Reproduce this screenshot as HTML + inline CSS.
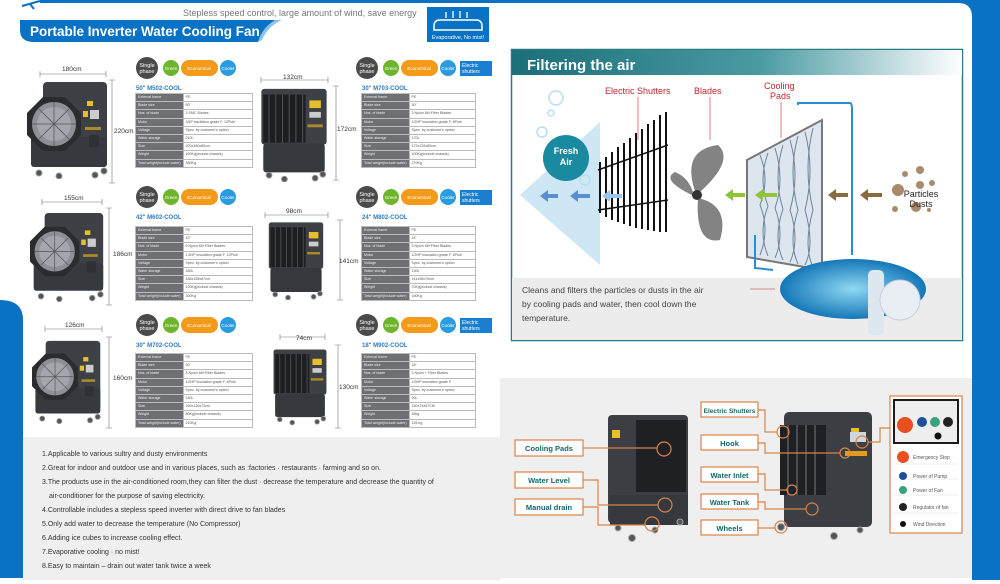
<!DOCTYPE html>
<html><head><meta charset="utf-8"><style>
html,body{margin:0;padding:0;background:#fff;}
body{width:1000px;height:584px;position:relative;overflow:hidden;font-family:"Liberation Sans",Arial,sans-serif;}
svg{position:absolute;left:0;top:0;}
table.t{position:absolute;border-collapse:collapse;font-size:3.6px;line-height:7px;}
table.t td{border:0.6px solid #bbb;padding:0 2px;height:7.2px;white-space:nowrap;overflow:hidden;}
table.t td:first-child{background:#6e7074;color:#eee;width:40%;}
table.t td:last-child{background:#fff;color:#555;}
</style></head><body>
<svg width="1000" height="584" viewBox="0 0 1000 584" font-family="Liberation Sans, Arial, sans-serif">
<defs>
<symbol id="bigfan" viewBox="0 0 82 100">
 <rect x="16" y="3" width="64" height="82" rx="4" fill="#3d4045"/>
 <rect x="4" y="58" width="76" height="30" rx="3" fill="#36393d"/>
 <polygon points="16,18 38,18 54,34 54,56 38,72 16,72 0,56 0,34" fill="#2a2c30"/>
 <circle cx="27" cy="45" r="22" fill="#8d9197"/>
 <circle cx="27" cy="45" r="17" fill="#a3a7ad"/>
 <g stroke="#555" stroke-width="0.8"><line x1="5" y1="45" x2="49" y2="45"/><line x1="27" y1="23" x2="27" y2="67"/><line x1="12" y1="30" x2="42" y2="60"/><line x1="42" y1="30" x2="12" y2="60"/></g>
 <rect x="60" y="22" width="6" height="5" fill="#e6c02a"/><rect x="56" y="32" width="5" height="6" fill="#e6c02a"/>
 <rect x="63" y="31" width="9" height="9" fill="#ccc"/>
 <rect x="58" y="48" width="16" height="3" fill="#b08a2a"/>
 <rect x="62" y="56" width="10" height="12" fill="#2e3034"/>
 <g fill="#555" stroke="#999" stroke-width="1"><circle cx="12" cy="94" r="3"/><circle cx="32" cy="97" r="3"/><circle cx="68" cy="96" r="3"/><circle cx="77" cy="92" r="3"/></g>
</symbol>
<symbol id="boxfan" viewBox="0 0 72 100">
 <rect x="2" y="3" width="68" height="58" rx="3" fill="#3d4045"/>
 <rect x="4" y="9" width="44" height="50" fill="#1c1e21"/>
 <g stroke="#555" stroke-width="1"><line x1="10" y1="9" x2="10" y2="59"/><line x1="17" y1="9" x2="17" y2="59"/><line x1="24" y1="9" x2="24" y2="59"/><line x1="31" y1="9" x2="31" y2="59"/><line x1="38" y1="9" x2="38" y2="59"/><line x1="45" y1="9" x2="45" y2="59"/></g>
 <rect x="52" y="15" width="12" height="8" fill="#e6c02a"/><rect x="52" y="27" width="12" height="6" fill="#ccc"/>
 <rect x="50" y="40" width="16" height="3" fill="#b08a2a"/>
 <rect x="4" y="60" width="64" height="30" rx="3" fill="#35383c"/>
 <g fill="#555" stroke="#999" stroke-width="1"><circle cx="10" cy="93" r="3"/><circle cx="26" cy="97" r="3"/><circle cx="58" cy="96" r="3"/><circle cx="66" cy="92" r="3"/></g>
</symbol>
<linearGradient id="hg" x1="0" x2="1"><stop offset="0" stop-color="#1b6f78"/><stop offset="0.55" stop-color="#4a9aa2"/><stop offset="1" stop-color="#ffffff"/></linearGradient>
<radialGradient id="wg" cx="0.5" cy="0.5" r="0.5"><stop offset="0" stop-color="#8fd8f2"/><stop offset="1" stop-color="#1577b8"/></radialGradient>
</defs>

<!-- frame -->
<rect x="972" y="0" width="28" height="580" fill="#0a72c4"/>
<rect x="40" y="0" width="960" height="3" fill="#0a72c4"/>
<path d="M958 3 Q972 3 972 17 L972 3 Z" fill="#0a72c4"/>
<path d="M0 300 Q23 300 23 320 L23 578 L0 578 Z" fill="#0a72c4"/>
<path d="M22 6 L40 1 M30 4 L34 9" stroke="#0a72c4" stroke-width="2"/>
<rect x="23" y="437" width="477" height="143" fill="#efefef"/>
<rect x="500" y="378" width="472" height="200" fill="#efefef"/>

<!-- header -->
<text x="183" y="16" font-size="9" fill="#777">Stepless speed control, large amount of wind, save energy</text>
<path d="M20 20 L280 20 Q265 26 258 42 L34 42 Q20 42 20 30 Z" fill="#0a72c4"/>
<path d="M262 40 Q268 26 282 20 L275 20 Q262 28 258 42 Z" fill="#8fc3ea"/>
<text x="30" y="36" font-size="13.5" font-weight="bold" fill="#fff">Portable Inverter Water Cooling Fan</text>
<rect x="427" y="7" width="62" height="35" fill="#0a72c4"/>
<path d="M434 26 Q434 20 440 20 L476 20 Q482 20 482 26 L482 30 L434 30 Z" fill="none" stroke="#fff" stroke-width="1.5"/>
<g stroke="#fff" stroke-width="1.3"><line x1="446" y1="18" x2="446" y2="12"/><line x1="453" y1="18" x2="453" y2="11"/><line x1="460" y1="18" x2="460" y2="11"/><line x1="467" y1="18" x2="467" y2="12"/></g>
<text x="458" y="39" font-size="5.5" fill="#fff" text-anchor="middle">Evaporative, No mist!</text>

<!-- fans -->
<use href="#bigfan" x="27" y="79" width="82" height="100"/>
<use href="#boxfan" x="258" y="86" width="72" height="96"/>
<use href="#bigfan" x="30" y="210" width="75" height="92"/>
<use href="#boxfan" x="261" y="220" width="70" height="80"/>
<use href="#bigfan" x="32" y="338" width="70" height="86"/>
<use href="#boxfan" x="272" y="345" width="56" height="82"/>

<!-- dimension lines -->
<g stroke="#777" stroke-width="0.6" fill="none">
<path d="M40 74 H106 M40 71 V77 M106 71 V77"/><path d="M112 80 V183 M109 80 H115 M109 183 H115"/>
<path d="M261 80 H328 M261 77 V83 M328 77 V83"/><path d="M336 86 V180 M333 86 H339 M333 180 H339"/>
<path d="M42 202 H102 M42 199 V205 M102 199 V205"/><path d="M109 208 V305 M106 208 H112 M106 305 H112"/>
<path d="M265 215 H328 M265 212 V218 M328 212 V218"/><path d="M340 220 V300 M337 220 H343 M337 300 H343"/>
<path d="M45 329 H102 M45 326 V332 M102 326 V332"/><path d="M109 337 V428 M106 337 H112 M106 428 H112"/>
<path d="M280 337 H325 M280 334 V340 M325 334 V340"/><path d="M338 345 V428 M335 345 H341 M335 428 H341"/>
</g>
<g font-size="6.5" fill="#333">
<text x="62" y="71">180cm</text><text x="114" y="133">220cm</text>
<text x="283" y="79">132cm</text><text x="337" y="131">172cm</text>
<text x="64" y="200">155cm</text><text x="113" y="256">186cm</text>
<text x="286" y="213">98cm</text><text x="339" y="263">141cm</text>
<text x="65" y="327">126cm</text><text x="113" y="380">160cm</text>
<text x="296" y="340">74cm</text><text x="339" y="389">130cm</text>
</g>

<!-- badges -->
<g id="b1">
<circle cx="147" cy="68" r="11" fill="#4a4a4a"/><text x="147" y="67" font-size="5.5" fill="#fff" text-anchor="middle">Single</text><text x="147" y="73" font-size="5.5" fill="#fff" text-anchor="middle">phase</text>
<circle cx="171" cy="68" r="8" fill="#6cb52d"/><text x="171" y="70" font-size="4.5" fill="#fff" text-anchor="middle">Green</text>
<rect x="181" y="60" width="37" height="16" rx="8" fill="#f39a1b"/><text x="199" y="70" font-size="4.5" fill="#fff" text-anchor="middle">Economical</text>
<circle cx="228" cy="68" r="8" fill="#2b9be0"/><text x="228" y="70" font-size="4.5" fill="#fff" text-anchor="middle">Cooler</text>
</g>
<use href="#b1" x="0" y="129"/><use href="#b1" x="0" y="257"/>
<use href="#b1" x="220" y="0"/><use href="#b1" x="220" y="129"/><use href="#b1" x="220" y="257"/>
<g id="es"><rect x="460" y="61" width="32" height="15" fill="#1a7fd0"/><text x="462" y="67" font-size="5" fill="#fff">Electric</text><text x="462" y="73" font-size="5" fill="#fff">shutters</text></g>
<use href="#es" x="0" y="129"/><use href="#es" x="0" y="257"/>

<g font-size="6" font-weight="bold" fill="#2a7bc0">
<text x="136" y="90">50" M502-COOL</text><text x="362" y="90">30" M703-COOL</text>
<text x="136" y="219">42" M602-COOL</text><text x="362" y="219">24" M802-COOL</text>
<text x="136" y="347">30" M702-COOL</text><text x="362" y="347">18" M902-COOL</text>
</g>

<!-- Filter panel -->
<rect x="511.5" y="49.5" width="451" height="291" fill="#fff" stroke="#2a7b80" stroke-width="1.5"/>
<rect x="512" y="50" width="450" height="25" fill="url(#hg)"/>
<text x="527" y="70" font-size="15" font-weight="bold" fill="#fff">Filtering the air</text>
<path d="M520 195 L600 122 L600 265 Z" fill="#cfe6f5"/>
<rect x="512" y="278" width="450" height="62" fill="#ececec"/>
<circle cx="566" cy="158" r="23" fill="#1a8aa0"/>
<text x="566" y="154" font-size="9" font-weight="bold" fill="#fff" text-anchor="middle">Fresh</text>
<text x="566" y="165" font-size="9" font-weight="bold" fill="#fff" text-anchor="middle">Air</text>
<g fill="none" stroke="#b8dff0" stroke-width="1.5"><circle cx="556" cy="98" r="7"/><circle cx="551" cy="113" r="3"/><circle cx="542" cy="132" r="5"/><circle cx="585" cy="180" r="5"/></g>
<g stroke="#111" stroke-width="2">
<line x1="600" y1="162" x2="600" y2="213"/><line x1="606" y1="157" x2="606" y2="217"/><line x1="612" y1="152" x2="612" y2="220"/><line x1="618" y1="147" x2="618" y2="222"/><line x1="624" y1="143" x2="624" y2="224"/><line x1="630" y1="138" x2="630" y2="226"/><line x1="636" y1="133" x2="636" y2="228"/><line x1="642" y1="129" x2="642" y2="229"/><line x1="648" y1="124" x2="648" y2="230"/><line x1="654" y1="120" x2="654" y2="231"/><line x1="660" y1="115" x2="660" y2="232"/><line x1="666" y1="112" x2="666" y2="232"/>
<line x1="598" y1="170" x2="668" y2="145" stroke-width="1.5"/><line x1="598" y1="210" x2="668" y2="200" stroke-width="1.5"/>
</g>
<g fill="#838383">
<path d="M696 194 Q680 150 718 145 Q735 160 700 192 Z"/>
<path d="M694 196 Q660 180 675 172 Q690 178 694 196 Z"/>
<path d="M698 198 Q730 205 720 240 Q695 245 698 198 Z"/>
</g>
<circle cx="697" cy="195" r="5" fill="#333"/>
<polygon points="747,160 822,120 822,270 747,257" fill="#dde6ee" stroke="#777" stroke-width="2"/>
<g fill="none" stroke="#3c5a78" stroke-width="1" opacity="0.7">
<path d="M760 155 Q770 180 760 205 Q770 230 760 255"/><path d="M775 148 Q785 180 775 208 Q785 235 775 258"/><path d="M790 140 Q800 175 790 210 Q800 240 790 262"/><path d="M805 132 Q815 170 805 210 Q815 245 805 265"/>
<path d="M768 153 Q758 180 768 206 Q758 232 768 256"/><path d="M783 145 Q773 178 783 209 Q773 238 783 260"/><path d="M798 136 Q788 172 798 210 Q788 242 798 264"/><path d="M813 128 Q803 168 813 210 Q803 246 813 267"/>
</g>
<ellipse cx="853" cy="289" rx="73" ry="30" fill="url(#wg)"/>
<path d="M798 105 L798 103 Q798 103 850 103 Q852 103 852 110 L852 255" fill="none" stroke="#2a8fd0" stroke-width="2"/>
<path d="M755 235 L755 268 L773 270" fill="none" stroke="#2a8fd0" stroke-width="2"/>
<rect x="868" y="270" width="16" height="65" rx="5" fill="#dde7ef"/>
<circle cx="900" cy="300" r="20" fill="#e8eef3" stroke="#ccd" stroke-width="1"/>
<g fill="#5a8fd0"><path d="M540 196 l8 -6 v4 h10 v4 h-10 v4 z"/><path d="M570 196 l8 -6 v4 h12 v4 h-12 v4 z"/><path d="M602 196 l8 -6 v4 h12 v4 h-12 v4 z" fill="#9cc4e8"/></g>
<g fill="#8fc43a"><path d="M725 195 l8 -6 v4 h12 v4 h-12 v4 z"/><path d="M755 195 l8 -6 v4 h14 v4 h-14 v4 z"/></g>
<g fill="#8a6a3f"><path d="M828 195 l8 -6 v4 h12 v4 h-12 v4 z"/><path d="M860 195 l8 -6 v4 h14 v4 h-14 v4 z"/></g>
<g fill="#a98b6b"><circle cx="905" cy="174" r="3"/><circle cx="920" cy="170" r="4"/><circle cx="898" cy="190" r="6"/><circle cx="920" cy="185" r="4"/><circle cx="932" cy="183" r="3"/><circle cx="916" cy="207" r="5"/><circle cx="895" cy="209" r="3"/><circle cx="929" cy="210" r="2"/></g>
<text x="921" y="197" font-size="9" fill="#222" text-anchor="middle">Particles</text>
<text x="921" y="207" font-size="9" fill="#222" text-anchor="middle">Dusts</text>
<g font-size="9" fill="#c0262d"><text x="605" y="94">Electric Shutters</text><text x="694" y="94">Blades</text><text x="764" y="89">Cooling</text><text x="770" y="99">Pads</text></g>
<g stroke="#c0262d" stroke-width="0.6"><line x1="638" y1="97" x2="638" y2="140"/><line x1="710" y1="97" x2="710" y2="140"/><line x1="781" y1="102" x2="781" y2="138"/></g>
<g font-size="8.5" fill="#444"><text x="522" y="293">Cleans and filters the particles or dusts in the air</text><text x="522" y="307">by cooling pads and water, then cool down the</text><text x="522" y="321">temperature.</text></g>
<line x1="750" y1="289" x2="775" y2="289" stroke="#c0262d" stroke-width="0.6"/>

<!-- features -->
<g font-size="7" fill="#333">
<text x="42" y="456">1.Applicable to various sultry and dusty environments</text>
<text x="42" y="470">2.Great for indoor and outdoor use and in various places, such as :factories · restaurants · farming and so on.</text>
<text x="42" y="484">3.The products use in the air-conditioned room,they can filter the dust · decrease the temperature and decrease the quantity of</text>
<text x="49" y="498">air-conditioner for the purpose of saving electricity.</text>
<text x="42" y="512">4.Controllable includes a stepless speed inverter with direct drive to fan blades</text>
<text x="42" y="526">5.Only add water to decrease the temperature (No Compressor)</text>
<text x="42" y="540">6.Adding ice cubes to increase cooling effect.</text>
<text x="42" y="554">7.Evaporative cooling · no mist!</text>
<text x="42" y="568">8.Easy to maintain – drain out water tank twice a week</text>
</g>

<!-- machines -->
<rect x="608" y="415" width="80" height="108" rx="4" fill="#3b3e43"/>
<rect x="636" y="420" width="50" height="72" fill="#1e2023"/>
<rect x="612" y="430" width="8" height="8" fill="#e6c02a"/>
<rect x="610" y="495" width="78" height="30" fill="#35383c"/>
<g fill="#555" stroke="#aaa"><circle cx="618" cy="528" r="3"/><circle cx="632" cy="538" r="3.5"/><circle cx="655" cy="530" r="3"/><circle cx="680" cy="522" r="3"/></g>
<rect x="784" y="412" width="88" height="115" rx="5" fill="#3b3e43"/>
<rect x="780" y="425" width="46" height="70" fill="#1e2023"/>
<g stroke="#777" stroke-width="1"><line x1="788" y1="425" x2="788" y2="495"/><line x1="797" y1="425" x2="797" y2="495"/><line x1="806" y1="425" x2="806" y2="495"/><line x1="815" y1="425" x2="815" y2="495"/></g>
<rect x="850" y="432" width="16" height="10" fill="#cfd6dc"/><rect x="851" y="428" width="8" height="4" fill="#e6c02a"/>
<rect x="845" y="451" width="22" height="5" fill="#e89a1a"/>
<g fill="#555" stroke="#aaa"><circle cx="781" cy="527" r="3.5"/><circle cx="834" cy="536" r="3.5"/><circle cx="860" cy="530" r="3"/></g>
<g fill="none" stroke="#d9834a" stroke-width="1.2">
<circle cx="664" cy="449" r="7"/><circle cx="665" cy="505" r="7"/><circle cx="652" cy="524" r="7"/>
<circle cx="783" cy="432" r="6"/><circle cx="845" cy="453" r="5"/><circle cx="792" cy="490" r="5"/><circle cx="812" cy="509" r="6"/><circle cx="781" cy="527" r="6"/><circle cx="862" cy="442" r="6"/>
<path d="M583 448 H657 M583 480 H598 V505 H658 M583 507 H598 V525 H645"/>
<path d="M758 410 H765 V432 H777 M758 443 H765 V453 H840 M758 474 H765 V490 H787 M758 502 H765 V509 H806 M758 528 H775 M868 442 H880 V428 H890"/>
</g>
<g fill="#fff" stroke="#d9834a" stroke-width="1.2">
<rect x="515" y="440" width="68" height="16"/><rect x="515" y="472" width="68" height="16"/><rect x="515" y="499" width="68" height="16"/>
<rect x="701" y="402" width="57" height="15"/><rect x="701" y="435" width="57" height="15"/><rect x="701" y="467" width="57" height="15"/><rect x="701" y="494" width="57" height="15"/><rect x="701" y="520" width="57" height="15"/>
<rect x="890" y="396" width="72" height="137"/>
</g>
<g font-size="7.5" font-weight="bold" fill="#116870">
<text x="549" y="451" text-anchor="middle">Cooling Pads</text><text x="549" y="483" text-anchor="middle">Water Level</text><text x="549" y="510" text-anchor="middle">Manual drain</text>
<text x="729.5" y="413" text-anchor="middle" font-size="6.5">Electric Shutters</text><text x="729.5" y="446" text-anchor="middle">Hook</text><text x="729.5" y="478" text-anchor="middle">Water Inlet</text><text x="729.5" y="505" text-anchor="middle">Water Tank</text><text x="729.5" y="531" text-anchor="middle">Wheels</text>
</g>
<rect x="893" y="399" width="66" height="45" fill="#1c1c1c"/>
<rect x="895" y="401" width="62" height="41" fill="#eee"/>
<circle cx="905" cy="425" r="8" fill="#e8501f"/><circle cx="922" cy="422" r="5" fill="#1d4f9a"/><circle cx="935" cy="422" r="5" fill="#3aa37a"/><circle cx="948" cy="422" r="5" fill="#222"/><circle cx="938" cy="436" r="3.5" fill="#111"/>
<g stroke="#ddd" stroke-width="0.6"><line x1="893" y1="464" x2="958" y2="464"/><line x1="893" y1="479" x2="958" y2="479"/><line x1="893" y1="495" x2="958" y2="495"/><line x1="893" y1="513" x2="958" y2="513"/></g>
<circle cx="903" cy="457" r="6" fill="#e8501f"/><circle cx="903" cy="476" r="4" fill="#1d4f9a"/><circle cx="903" cy="490" r="4" fill="#3aa37a"/><circle cx="903" cy="507" r="4" fill="#222"/><circle cx="903" cy="524" r="3" fill="#111"/>
<g font-size="5" fill="#555"><text x="913" y="459">Emergency Stop</text><text x="913" y="478">Power of Pump</text><text x="913" y="492">Power of Fan</text><text x="913" y="509">Regulator of fan</text><text x="913" y="526">Wind Direction</text></g>
</svg>

<table class="t" style="left:135px;top:93px;width:118px"><tr><td>External frame</td><td>PE</td></tr><tr><td>Blade size</td><td>50"</td></tr><tr><td>Nos. of blade</td><td>3 SMC Blades</td></tr><tr><td>Motor</td><td>3/4P insulation grade F, 12Pole</td></tr><tr><td>Voltage</td><td>Spec. by customer's option</td></tr><tr><td>Water storage</td><td>210L</td></tr><tr><td>Size</td><td>220x180x85cm</td></tr><tr><td>Weight</td><td>160Kg(include chassis)</td></tr><tr><td>Total weight(include water)</td><td>380Kg</td></tr></table>
<table class="t" style="left:361px;top:93px;width:115px"><tr><td>External frame</td><td>PE</td></tr><tr><td>Blade size</td><td>30"</td></tr><tr><td>Nos. of blade</td><td>3 Nylon 66+Fiber Blades</td></tr><tr><td>Motor</td><td>1/2HP insulation grade F, 6Pole</td></tr><tr><td>Voltage</td><td>Spec. by customer's option</td></tr><tr><td>Water storage</td><td>170L</td></tr><tr><td>Size</td><td>172x132x80cm</td></tr><tr><td>Weight</td><td>100Kg(include chassis)</td></tr><tr><td>Total weight(include water)</td><td>270Kg</td></tr></table>
<table class="t" style="left:135px;top:226px;width:118px"><tr><td>External frame</td><td>PE</td></tr><tr><td>Blade size</td><td>42"</td></tr><tr><td>Nos. of blade</td><td>6 Nylon 66+Fiber Blades</td></tr><tr><td>Motor</td><td>1.5HP insulation grade F, 10Pole</td></tr><tr><td>Voltage</td><td>Spec. by customer's option</td></tr><tr><td>Water storage</td><td>180L</td></tr><tr><td>Size</td><td>186x155x87cm</td></tr><tr><td>Weight</td><td>120Kg(include chassis)</td></tr><tr><td>Total weight(include water)</td><td>300Kg</td></tr></table>
<table class="t" style="left:361px;top:226px;width:115px"><tr><td>External frame</td><td>PE</td></tr><tr><td>Blade size</td><td>24"</td></tr><tr><td>Nos. of blade</td><td>3 Nylon 66+Fiber Blades</td></tr><tr><td>Motor</td><td>1/2HP insulation grade F, 6Pole</td></tr><tr><td>Voltage</td><td>Spec. by customer's option</td></tr><tr><td>Water storage</td><td>130L</td></tr><tr><td>Size</td><td>141x98x70cm</td></tr><tr><td>Weight</td><td>70Kg(include chassis)</td></tr><tr><td>Total weight(include water)</td><td>160Kg</td></tr></table>
<table class="t" style="left:135px;top:353px;width:118px"><tr><td>External frame</td><td>PE</td></tr><tr><td>Blade size</td><td>30"</td></tr><tr><td>Nos. of blade</td><td>3 Nylon 66+Fiber Blades</td></tr><tr><td>Motor</td><td>1/2HP insulation grade F, 6Pole</td></tr><tr><td>Voltage</td><td>Spec. by customer's option</td></tr><tr><td>Water storage</td><td>140L</td></tr><tr><td>Size</td><td>160x126x72cm</td></tr><tr><td>Weight</td><td>80Kg(include chassis)</td></tr><tr><td>Total weight(include water)</td><td>210Kg</td></tr></table>
<table class="t" style="left:361px;top:353px;width:115px"><tr><td>External frame</td><td>PE</td></tr><tr><td>Blade size</td><td>18"</td></tr><tr><td>Nos. of blade</td><td>3 Nylon + Fiber Blades</td></tr><tr><td>Motor</td><td>1/3HP insulation grade F</td></tr><tr><td>Voltage</td><td>Spec. by customer's option</td></tr><tr><td>Water storage</td><td>90L</td></tr><tr><td>Size</td><td>130x74x57CM</td></tr><tr><td>Weight</td><td>45kg</td></tr><tr><td>Total weight(include water)</td><td>125 kg</td></tr></table>
</body></html>
